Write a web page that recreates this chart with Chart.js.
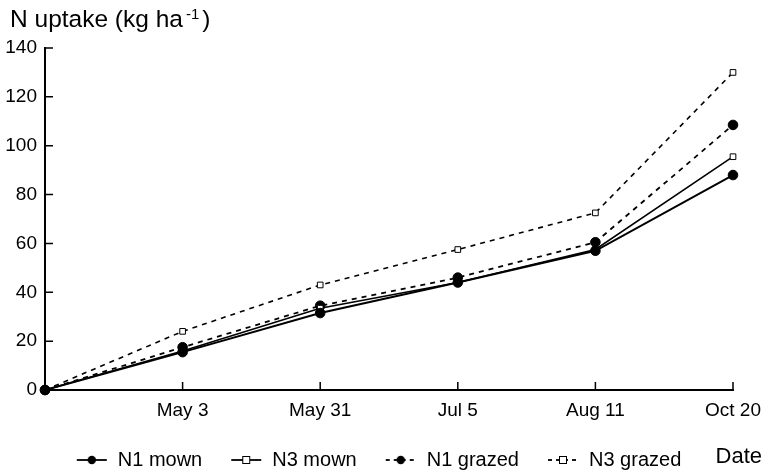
<!DOCTYPE html>
<html>
<head>
<meta charset="utf-8">
<script src="https://cdn.jsdelivr.net/npm/chart.js@4.4.1/dist/chart.umd.min.js"></script>
<style>
    html, body { margin: 0; padding: 0; background: #fff; }
    #wrap { width: 765px; height: 472px; position: relative; }
</style>
</head>
<body>
<div id="wrap"><canvas id="chart"></canvas></div>
<script>
// ─── DATA ─────────────────────────────────────────────────
const dates     = ['', 'May 3', 'May 31', 'Jul 5', 'Aug 11', 'Oct 20'];
const n1Mown    = [0, 15.5, 31.5, 44, 57, 88];
const n3Mown    = [0, 16, 33.5, 44, 57.5, 95.5];
const n1Grazed  = [0, 17.5, 34.5, 46, 60.5, 108.5];
const n3Grazed  = [0, 24, 43, 57.5, 72.5, 130];
const yTitle    = 'N uptake (kg ha';
const xTitle    = 'Date';

const FONT = "'Liberation Sans', Arial, Helvetica, sans-serif";

// ─── LEGEND ICONS (line + marker) ─────────────────────────
function legendIcon(dashed, marker) {
    const c = document.createElement('canvas');
    c.width = 32; c.height = 14;
    const g = c.getContext('2d');
    g.strokeStyle = '#000';
    g.lineWidth = 1.8;
    if (dashed) g.setLineDash([4, 4]);
    g.beginPath(); g.moveTo(1, 7); g.lineTo(31, 7); g.stroke();
    g.setLineDash([]);
    if (marker === 'circle') {
        g.fillStyle = '#000';
        g.beginPath(); g.arc(16, 7, 4.2, 0, Math.PI * 2); g.fill();
    } else {
        g.fillStyle = '#fff';
        g.lineWidth = 1;
        g.fillRect(12.5, 3.5, 7, 7);
        g.strokeRect(12.5, 3.5, 7, 7);
    }
    return c;
}

function makeDataset(label, data, dashed, marker, width) {
    return {
        label,
        data,
        borderColor: '#000',
        borderWidth: width,
        borderDash: dashed ? [5, 5] : [],
        tension: 0,
        pointStyle: marker === 'circle' ? 'circle' : 'rect',
        pointRadius: marker === 'circle' ? 4.8 : 4,
        pointBackgroundColor: marker === 'circle' ? '#000' : '#fff',
        pointBorderColor: '#000',
        pointBorderWidth: 1,
        clip: false,
        icon: legendIcon(dashed, marker),
    };
}

// ─── EXTRA DRAWING: inward ticks, titles ──────────────────
const decor = {
    id: 'decor',
    afterLayout(chart) {
        // nudge legend so it is centred under the whole figure
        chart.legend.left += 12;
        chart.legend.right += 12;
    },
    afterDraw(chart) {
        const { ctx, chartArea: a, scales: { x, y } } = chart;
        ctx.save();
        ctx.strokeStyle = '#000';
        ctx.lineWidth = 1.5;
        ctx.beginPath();
        y.ticks.forEach((t, i) => {
            const py = y.getPixelForTick(i);
            ctx.moveTo(a.left, py); ctx.lineTo(a.left + 8, py);
        });
        x.ticks.forEach((t, i) => {
            if (i === 0) return;
            const px = x.getPixelForTick(i);
            ctx.moveTo(px, a.bottom); ctx.lineTo(px, a.bottom - 8);
        });
        ctx.stroke();

        ctx.fillStyle = '#000';
        ctx.textBaseline = 'alphabetic';
        ctx.textAlign = 'left';
        ctx.font = '24.5px ' + FONT;
        ctx.fillText(yTitle, 10, 27);
        let w = ctx.measureText(yTitle).width;
        ctx.font = '15px ' + FONT;
        ctx.fillText('-1', 10 + w + 3, 19);
        const w2 = ctx.measureText('-1').width;
        ctx.font = '24.5px ' + FONT;
        ctx.fillText(')', 10 + w + w2 + 6, 27);

        ctx.font = '22px ' + FONT;
        ctx.textAlign = 'right';
        ctx.fillText(xTitle, 762, 463);
        ctx.restore();
    },
};

new Chart(document.getElementById('chart'), {
    type: 'line',
    data: {
        labels: dates,
        datasets: [
            makeDataset('N1 mown', n1Mown, false, 'circle', 2),
            makeDataset('N3 mown', n3Mown, false, 'rect', 1.6),
            makeDataset('N1 grazed', n1Grazed, true, 'circle', 1.8),
            makeDataset('N3 grazed', n3Grazed, true, 'rect', 1.6),
        ],
    },
    options: {
        responsive: true,
        maintainAspectRatio: false,
        animation: false,
        layout: { padding: { top: 48, right: 32, left: 0, bottom: -8 } },
        plugins: {
            title: { display: false },
            tooltip: { enabled: false },
            legend: {
                position: 'bottom',
                labels: {
                    usePointStyle: true,
                    pointStyleWidth: 32,
                    padding: 28,
                    color: '#000',
                    font: { family: FONT, size: 20 },
                    generateLabels: (chart) => {
                        const items = Chart.defaults.plugins.legend.labels.generateLabels(chart);
                        items.forEach(it => { it.pointStyle = chart.data.datasets[it.datasetIndex].icon; });
                        return items;
                    },
                },
            },
        },
        scales: {
            x: {
                offset: false,
                grid: { display: false, drawTicks: false },
                border: { display: true, color: '#000', width: 2 },
                ticks: { color: '#000', padding: 9, maxRotation: 0, autoSkip: false, font: { family: FONT, size: 19 } },
                afterFit: (s) => { s.height = 32; s.paddingLeft = 0; s.paddingRight = 0; },
            },
            y: {
                min: 0,
                max: 140,
                grid: { display: false, drawTicks: false },
                border: { display: true, color: '#000', width: 2 },
                ticks: { stepSize: 20, color: '#000', padding: 8, font: { family: FONT, size: 19 } },
                afterFit: (s) => { s.width = 45; s.paddingTop = 0; s.paddingBottom = 0; },
            },
        },
    },
    plugins: [decor],
});
</script>
</body>
</html>
